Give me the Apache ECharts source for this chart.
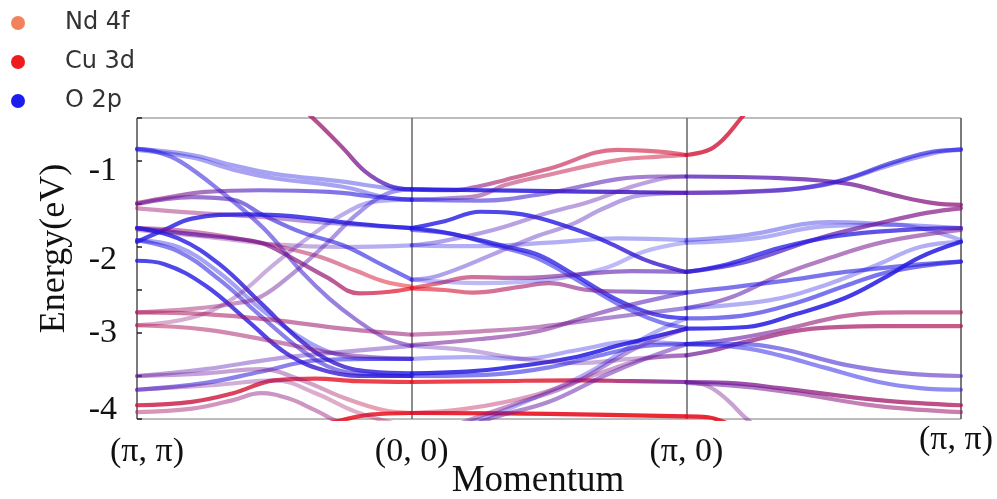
<!DOCTYPE html>
<html><head><meta charset="utf-8">
<script src="https://cdn.jsdelivr.net/npm/echarts@6/dist/echarts.min.js"></script>
<style>html,body{margin:0;padding:0;background:#fff}#c{width:997px;height:499px}</style>
</head><body><div id="c"></div>
<script>
// High-symmetry points along the momentum path
const kTicks = [0, 1, 2, 3];
const kLabels = ['(π, π)', '(0, 0)', '(π, 0)', '(π, π)'];
const orbitals = ['Nd 4f', 'Cu 3d', 'O 2p'];

// Bands: points [k, energy (eV), Cu-3d fraction (0 = O 2p, 1 = Cu 3d)]
// Segment (π,π) -> (0,0)
const bandsMG = [
 [[0,0.7,.7],[0.25,0.45,.7],[0.5,-0.1,.68],[0.64,-0.5,.65],[0.75,-0.85,.55],[0.83,-1.12,.4],[0.92,-1.29,.2],[1,-1.33,.08]],
 [[0,-0.86,.05],[0.2,-0.93,.05],[0.35,-1.05,.05],[0.5,-1.15,.05],[0.75,-1.24,.05],[0.9,-1.31,.05],[1,-1.33,.05]],
 [[0,-0.87,.05],[0.2,-0.96,.05],[0.35,-1.1,.08],[0.5,-1.2,.08],[0.75,-1.3,.08],[0.9,-1.42,.05],[1,-1.45,.05]],
 [[0,-0.86,.05],[0.08,-0.9,.05],[0.16,-1.01,.08],[0.3,-1.34,.1],[0.46,-1.78,.1],[0.6,-2.29,.15],[0.7,-2.6,.2],[0.8,-2.85,.25],[0.9,-3.05,.3],[1,-3.15,.3]],
 [[0,-1.49,.55],[0.12,-1.42,.5],[0.25,-1.36,.4],[0.45,-1.34,.2],[0.7,-1.36,.1],[0.88,-1.42,.05],[1,-1.45,.05]],
 [[0,-1.5,.45],[0.2,-1.42,.35],[0.35,-1.45,.2],[0.46,-1.63,.1],[0.6,-1.83,.05],[0.75,-1.98,.05],[0.9,-2.22,.05],[1,-2.38,.05]],
 [[0,-1.55,.65],[0.2,-1.6,.6],[0.45,-1.65,.45],[0.7,-1.72,.2],[1,-1.78,.05]],
 [[0,-1.94,.05],[0.1,-1.8,.05],[0.2,-1.67,.05],[0.4,-1.62,.05],[0.56,-1.64,.05],[0.8,-1.73,.05],[1,-1.78,.05]],
 [[0,-1.78,.6],[0.2,-1.82,.65],[0.45,-1.95,.7],[0.65,-2.1,.75],[0.8,-2.28,.85],[0.9,-2.4,.95],[1,-2.46,1]],
 [[0,-1.80,.6],[0.25,-1.88,.55],[0.5,-1.97,.45],[0.75,-2.0,.2],[1,-1.98,.05]],
 [[0,-1.78,.3],[0.2,-1.85,.35],[0.35,-1.9,.4],[0.45,-1.95,.45],[0.52,-2.05,.5],[0.69,-2.35,.6],[0.81,-2.54,.8],[0.92,-2.52,.95],[1,-2.48,1]],
 [[0,-1.78,.05],[0.15,-1.9,.05],[0.3,-2.2,.05],[0.45,-2.65,.1],[0.6,-3.1,.15],[0.72,-3.35,.15],[0.85,-3.45,.1],[1,-3.47,.05]],
 [[0,-1.92,.05],[0.15,-2.05,.05],[0.3,-2.38,.05],[0.45,-2.8,.1],[0.6,-3.2,.1],[0.72,-3.42,.1],[0.85,-3.48,.05],[1,-3.5,.05]],
 [[0,-2.16,.05],[0.1,-2.2,.05],[0.25,-2.45,.05],[0.4,-2.85,.05],[0.55,-3.25,.1],[0.7,-3.45,.15],[0.85,-3.5,.1],[1,-3.5,.05]],
 [[0,-1.92,.05],[0.15,-2.0,.05],[0.3,-2.3,.05],[0.45,-2.72,.05],[0.58,-3.02,.05],[0.7,-3.22,.05],[0.85,-3.3,.05],[1,-3.3,.05]],
 [[0,-2.76,.7],[0.2,-2.72,.65],[0.35,-2.66,.55],[0.45,-2.58,.45],[0.57,-2.3,.35],[0.69,-1.96,.25],[0.8,-1.62,.15],[0.91,-1.38,.1],[1,-1.33,.05]],
 [[0,-2.91,.6],[0.2,-2.82,.55],[0.35,-2.6,.45],[0.5,-2.2,.35],[0.62,-1.9,.25],[0.75,-1.62,.15],[0.87,-1.47,.1],[1,-1.45,.05]],
 [[0,-2.76,.75],[0.25,-2.78,.7],[0.5,-2.85,.65],[0.75,-2.95,.6],[1,-3.02,.6]],
 [[0,-2.91,.8],[0.25,-2.96,.7],[0.5,-3.1,.6],[0.75,-3.25,.45],[1,-3.3,.3]],
 [[0,-3.5,.35],[0.25,-3.42,.3],[0.5,-3.3,.3],[0.75,-3.22,.3],[1,-3.15,.3]],
 [[0,-3.66,.1],[0.25,-3.58,.1],[0.45,-3.45,.1],[0.65,-3.32,.1],[0.85,-3.3,.05],[1,-3.3,.05]],
 [[0,-3.84,.85],[0.2,-3.8,.85],[0.35,-3.7,.9],[0.5,-3.55,.9],[0.65,-3.53,.95],[0.8,-3.56,1],[1,-3.57,1]],
 [[0,-3.92,.7],[0.2,-3.88,.65],[0.35,-3.78,.6],[0.45,-3.7,.55],[0.55,-3.76,.55],[0.65,-3.9,.6],[0.75,-4.05,.6],[1,-4.2,.6]],
 [[0,-3.5,.4],[0.25,-3.47,.4],[0.45,-3.42,.45],[0.6,-3.55,.55],[0.75,-3.75,.7],[0.9,-3.9,.9],[1,-3.93,1]],
 [[0,-4.4,1],[0.4,-4.3,1],[0.7,-4.05,1],[0.85,-3.95,1],[1,-3.93,1]],
 [[0,-3.66,.45],[0.3,-3.6,.45],[0.5,-3.55,.5],[0.65,-3.7,.6],[0.8,-3.92,.7],[1,-4.1,.7]]
];
const weightMG = [.75,.4,.4,.55,.6,.6,.45,.8,.5,.35,.7,.8,.55,.8,.4,.45,.35,.55,.5,.4,.55,.8,.45,.4,.85,.35];

// Segment (0,0) -> (π,0)
const bandsGX = [
 [[1,-1.33,.08],[1.15,-1.34,.3],[1.25,-1.29,.55],[1.34,-1.22,.7],[1.5,-1.09,.8],[1.75,-0.87,.85],[1.9,-0.89,.88],[2,-0.93,.9]],
 [[1,-1.45,.05],[1.15,-1.43,.35],[1.25,-1.40,.55],[1.34,-1.28,.7],[1.5,-1.16,.8],[1.75,-0.99,.85],[1.9,-0.95,.88],[2,-0.93,.9]],
 [[1,-1.33,.05],[1.25,-1.34,.05],[1.5,-1.35,.1],[1.75,-1.36,.2],[2,-1.37,.3]],
 [[1,-1.45,.05],[1.25,-1.46,.1],[1.5,-1.37,.2],[1.75,-1.21,.3],[1.9,-1.18,.35],[2,-1.18,.35]],
 [[1,-1.78,.05],[1.12,-1.7,.05],[1.25,-1.59,.05],[1.35,-1.6,.05],[1.46,-1.66,.05],[1.6,-1.8,.05],[1.71,-1.94,.1],[1.85,-2.15,.15],[1.95,-2.25,.15],[2,-2.29,.15]],
 [[1,-1.78,.05],[1.1,-1.82,.05],[1.22,-1.9,.05],[1.35,-2.0,.05],[1.46,-2.09,.05],[1.58,-2.3,.05],[1.74,-2.6,.05],[1.88,-2.78,.05],[2,-2.83,.05]],
 [[1,-1.80,.05],[1.15,-1.85,.05],[1.3,-1.98,.05],[1.45,-2.12,.05],[1.6,-2.38,.05],[1.75,-2.66,.05],[1.9,-2.87,.05],[2,-2.94,.05]],
 [[1,-1.98,.05],[1.25,-1.99,.05],[1.5,-1.95,.05],[1.75,-1.9,.05],[2,-1.92,.05]],
 [[1,-2.38,.1],[1.1,-2.33,.15],[1.3,-2.08,.2],[1.45,-1.88,.25],[1.58,-1.74,.25],[1.7,-1.55,.25],[1.83,-1.40,.2],[2,-1.37,.2]],
 [[1,-1.98,.1],[1.1,-1.94,.15],[1.3,-1.8,.25],[1.5,-1.6,.3],[1.65,-1.47,.3],[1.8,-1.3,.3],[1.92,-1.2,.3],[2,-1.18,.3]],
 [[1,-2.48,1],[1.12,-2.5,.95],[1.22,-2.53,.85],[1.4,-2.46,.7],[1.5,-2.42,.6],[1.64,-2.5,.5],[1.8,-2.52,.3],[2,-2.53,.1]],
 [[1,-2.48,1],[1.1,-2.42,.9],[1.22,-2.35,.75],[1.4,-2.36,.55],[1.6,-2.32,.4],[1.8,-2.28,.3],[2,-2.29,.25]],
 [[1,-3.02,.6],[1.25,-2.98,.6],[1.46,-2.93,.5],[1.7,-2.83,.35],[2,-2.71,.2]],
 [[1,-3.14,.4],[1.25,-3.07,.45],[1.46,-2.98,.45],[1.65,-2.8,.4],[1.8,-2.67,.3],[2,-2.53,.2]],
 [[1,-3.3,.05],[1.2,-3.28,.05],[1.4,-3.3,.05],[1.6,-3.2,.05],[1.8,-3.1,.05],[2,-3.13,.05]],
 [[1,-3.47,.05],[1.2,-3.45,.05],[1.33,-3.41,.05],[1.58,-3.29,.05],[1.76,-3.14,.05],[2,-2.95,.05]],
 [[1,-3.15,.3],[1.2,-3.2,.3],[1.4,-3.3,.35],[1.6,-3.35,.4],[1.8,-3.3,.4],[2,-3.26,.45]],
 [[1,-3.5,.05],[1.3,-3.48,.05],[1.5,-3.4,.05],[1.7,-3.25,.05],[1.85,-3.15,.05],[2,-3.13,.05]],
 [[1,-3.57,1],[1.3,-3.56,1],[1.6,-3.55,.9],[1.8,-3.56,.6],[2,-3.57,.4]],
 [[1,-3.93,1],[1.5,-3.94,1],[2,-3.97,1]],
 [[1,-4.3,.6],[1.1,-4.15,.6],[1.22,-4.0,.55],[1.4,-3.8,.5],[1.58,-3.6,.4],[1.82,-3.17,.3],[2,-2.95,.25]],
 [[1,-4.35,.5],[1.2,-4.1,.45],[1.3,-3.98,.4],[1.5,-3.8,.35],[1.7,-3.5,.3],[1.85,-3.3,.3],[2,-3.13,.25]],
 [[1,-4.2,.1],[1.25,-4.0,.1],[1.45,-3.75,.1],[1.65,-3.45,.1],[1.85,-3.05,.05],[2,-2.83,.05]],
 [[1,-3.93,.9],[1.2,-3.88,.8],[1.45,-3.72,.65],[1.7,-3.45,.5],[1.85,-3.3,.45],[2,-3.26,.4]],
 [[1,-2.38,.05],[1.25,-2.42,.05],[1.5,-2.38,.05],[1.7,-2.25,.05],[1.85,-2.05,.05],[2,-1.95,.05]]
];
const weightGX = [.6,.5,.85,.55,.8,.75,.55,.35,.4,.4,.6,.6,.5,.55,.35,.85,.35,.55,.8,.9,.45,.5,.35,.4,.3];

// Segment (π,0) -> (π,π)
const bandsXM = [
 [[2,-0.93,.9],[2.1,-0.84,.9],[2.2,-0.5,.9],[2.35,0.1,.9],[2.6,0.5,.9],[3,0.7,.9]],
 [[2,-1.18,.25],[2.34,-1.20,.3],[2.58,-1.26,.4],[2.76,-1.40,.5],[2.9,-1.49,.55],[3,-1.51,.55]],
 [[2,-1.37,.3],[2.22,-1.36,.3],[2.52,-1.26,.15],[2.76,-1.01,.05],[2.9,-0.89,.05],[3,-0.87,.05]],
 [[2,-1.37,.25],[2.25,-1.35,.2],[2.5,-1.28,.1],[2.75,-1.04,.05],[2.9,-0.91,.05],[3,-0.86,.05]],
 [[2,-1.92,.05],[2.22,-1.86,.05],[2.52,-1.71,.05],[2.76,-1.74,.05],[3,-1.78,.05]],
 [[2,-1.95,.05],[2.25,-1.9,.05],[2.5,-1.76,.05],[2.75,-1.74,.1],[3,-1.92,.05]],
 [[2,-2.29,.15],[2.22,-2.17,.15],[2.48,-1.9,.3],[2.72,-1.71,.45],[2.88,-1.6,.5],[3,-1.55,.55]],
 [[2,-2.29,.1],[2.15,-2.2,.05],[2.34,-2.01,.05],[2.55,-1.87,.05],[2.8,-1.8,.1],[3,-1.78,.15]],
 [[2,-2.71,.2],[2.15,-2.6,.3],[2.34,-2.33,.4],[2.5,-2.15,.45],[2.72,-1.94,.45],[3,-1.8,.45]],
 [[2,-2.53,.1],[2.34,-2.4,.05],[2.58,-2.29,.05],[2.82,-2.21,.05],[3,-2.17,.05]],
 [[2,-2.95,.05],[2.22,-2.93,.05],[2.4,-2.78,.05],[2.58,-2.59,.05],[2.72,-2.36,.05],[2.85,-2.12,.05],[3,-1.94,.05]],
 [[2,-2.83,.05],[2.2,-2.8,.05],[2.4,-2.65,.05],[2.58,-2.45,.05],[2.75,-2.28,.05],[3,-2.17,.05]],
 [[2,-2.71,.05],[2.3,-2.62,.05],[2.5,-2.45,.05],[2.7,-2.2,.05],[2.85,-2.0,.05],[3,-1.94,.05]],
 [[2,-3.26,.4],[2.1,-3.2,.45],[2.22,-3.1,.55],[2.46,-2.95,.65],[2.7,-2.92,.7],[3,-2.92,.75]],
 [[2,-3.13,.1],[2.15,-3.08,.3],[2.34,-2.97,.5],[2.58,-2.8,.65],[2.8,-2.76,.7],[3,-2.76,.7]],
 [[2,-3.13,.05],[2.2,-3.13,.05],[2.34,-3.18,.1],[2.58,-3.37,.15],[2.8,-3.47,.2],[3,-3.5,.25]],
 [[2,-3.13,.05],[2.2,-3.17,.05],[2.34,-3.26,.05],[2.5,-3.4,.05],[2.7,-3.57,.05],[2.85,-3.64,.05],[3,-3.66,.05]],
 [[2,-3.57,.4],[2.15,-3.58,.45],[2.34,-3.64,.5],[2.7,-3.78,.65],[3,-3.84,.75]],
 [[2,-3.58,.35],[2.2,-3.62,.4],[2.4,-3.7,.5],[2.7,-3.85,.6],[3,-3.92,.65]],
 [[2,-3.57,.45],[2.08,-3.62,.45],[2.15,-3.78,.45],[2.22,-4.0,.45],[2.35,-4.3,.45],[2.6,-4.55,.45],[3,-4.7,.45]],
 [[2,-3.97,1],[2.08,-3.98,1],[2.15,-4.05,1],[2.3,-4.2,1],[3,-4.5,1]]
];
const weightXM = [.8,.75,.65,.4,.4,.35,.7,.75,.55,.6,.85,.6,.35,.7,.6,.55,.5,.75,.55,.4,.9];

const BLUE = [25, 25, 235], RED = [232, 18, 32];
function rgba(cu, a) {
  const c = BLUE.map((b, i) => Math.round(b + (RED[i] - b) * cu));
  return 'rgba(' + c[0] + ',' + c[1] + ',' + c[2] + ',' + a + ')';
}
function bandSeries(pts, w) {
  const k0 = pts[0][0], k1 = pts[pts.length - 1][0];
  return {
    type: 'line', data: pts.map(p => [p[0], p[1]]), smooth: 0.4,
    symbol: 'none', silent: true, clip: true, z: 2, emphasis: {disabled: true},
    lineStyle: {width: 4.2, cap: 'round', join: 'round', color: new echarts.graphic.LinearGradient(0, 0, 1, 0,
      pts.map(p => ({offset: (p[0] - k0) / (k1 - k0), color: rgba(p[2], w)})))}
  };
}
const series = [];
bandsMG.forEach((b, i) => series.push(bandSeries(b, weightMG[i])));
bandsGX.forEach((b, i) => series.push(bandSeries(b, weightGX[i])));
bandsXM.forEach((b, i) => series.push(bandSeries(b, weightXM[i])));
const legendColors = ['#f2825c', '#ee1c1c', '#1c1cee'];
orbitals.forEach((n, i) => series.push({type: 'scatter', name: n, data: [], itemStyle: {color: legendColors[i], opacity: 1}}));

const serif = 'Liberation Serif';
const chart = echarts.init(document.getElementById('c'), null, {renderer: 'canvas'});
chart.setOption({
  animation: false,
  backgroundColor: '#fff',
  grid: {left: 137, right: 36, top: 118, bottom: 80, show: true, borderColor: '#7a7a7a', borderWidth: 1,
         containLabel: false, outerBoundsMode: 'none'},
  legend: {
    data: orbitals, orient: 'vertical', left: 11, top: 11, padding: 0, itemGap: 15,
    icon: 'circle', itemWidth: 14, itemHeight: 14, selectedMode: false,
    textStyle: {fontFamily: 'DejaVu Sans', fontSize: 24, lineHeight: 24, color: '#333', padding: [0, 0, 0, 35]}
  },
  xAxis: {
    type: 'value', min: 0, max: 3, interval: 1,
    name: 'Momentum', nameLocation: 'middle', nameGap: 44, nameMoveOverlap: false,
    nameTextStyle: {fontFamily: serif, fontSize: 37, color: '#111', padding: [0, 22, 0, 0]},
    axisLine: {show: false}, axisTick: {show: false},
    splitLine: {show: true, lineStyle: {color: '#666', width: 1.5}},
    axisLabel: {
      margin: 4, showMinLabel: true, showMaxLabel: true,
      formatter: v => { const i = kTicks.indexOf(v); if (i < 0) return ''; const s = i === 0 ? 'f' : (i === 3 ? 'l' : 'm'); return '{' + s + '|' + kLabels[i] + '}'; },
      rich: {
        f: {fontFamily: serif, fontSize: 34, color: '#111', padding: [12, 0, 0, 20]},
        m: {fontFamily: serif, fontSize: 34, color: '#111', padding: [12, 0, 0, 0]},
        l: {fontFamily: serif, fontSize: 34, color: '#111', padding: [0, 10, 0, 0]}
      }
    }
  },
  yAxis: {
    type: 'value', min: -4, max: -0.5, interval: 0.5,
    name: 'Energy(eV)', nameLocation: 'middle', nameGap: 64,
    nameTextStyle: {fontFamily: serif, fontSize: 36, color: '#111', padding: [0, 0, 0, 40]},
    axisLine: {show: false}, splitLine: {show: false},
    axisTick: {show: true, inside: true, length: 5, lineStyle: {color: '#222', width: 1.5}},
    axisLabel: {
      margin: 20,
      formatter: v => Number.isInteger(v) ? '{y' + (-v) + '|' + v + '}' : '',
      rich: {
        y1: {fontFamily: serif, fontSize: 34, color: '#111', padding: [20, 0, 0, 0]},
        y2: {fontFamily: serif, fontSize: 34, color: '#111', padding: [26, 0, 0, 0]},
        y3: {fontFamily: serif, fontSize: 34, color: '#111'},
        y4: {fontFamily: serif, fontSize: 34, color: '#111', padding: [0, 0, 18, 0]}
      }
    }
  },
  series: series
});
</script></body></html>
